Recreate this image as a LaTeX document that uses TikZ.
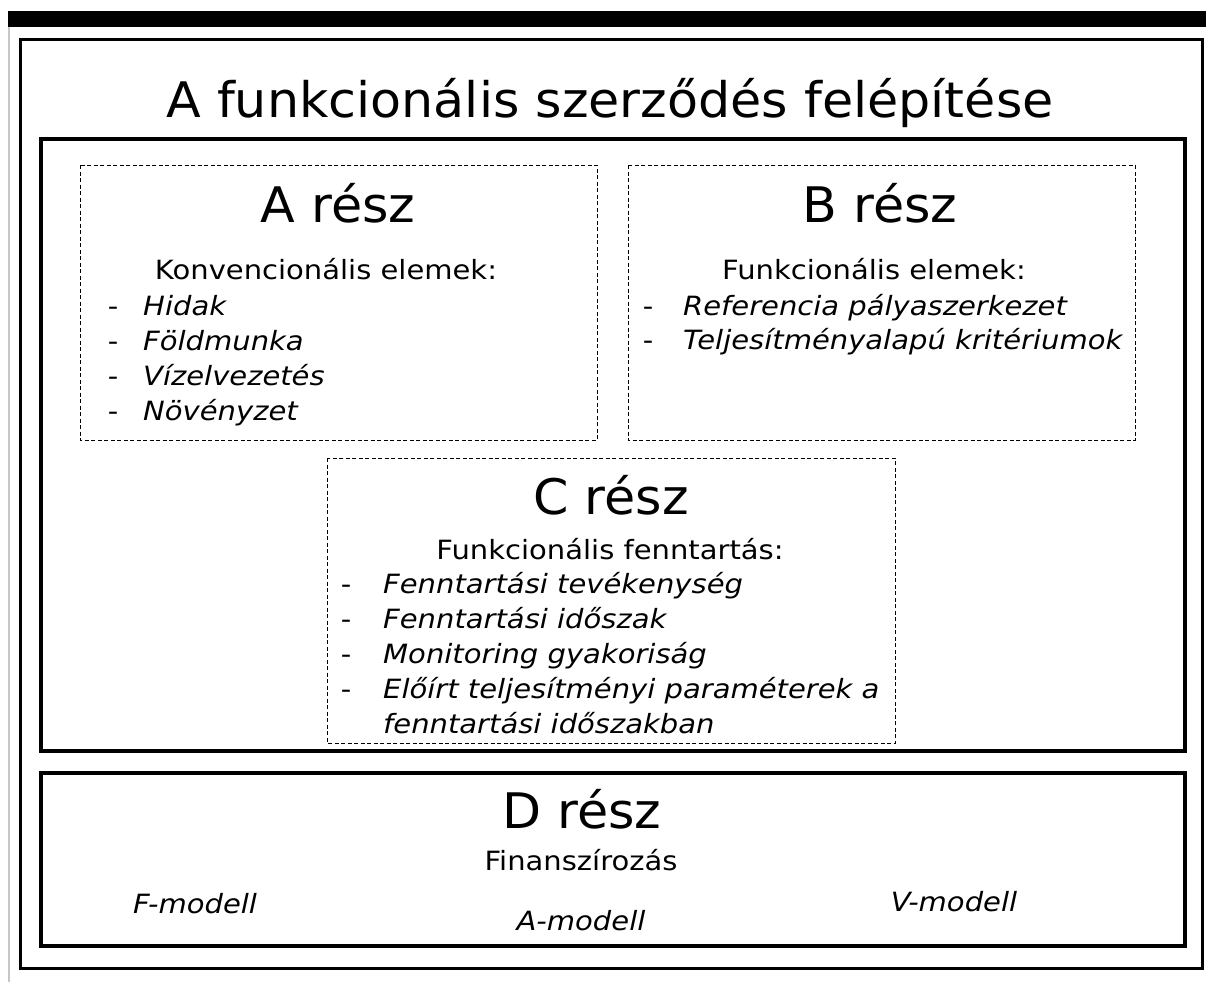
\documentclass[tikz,border=0pt]{standalone}
\usepackage{fontspec}
\setmainfont{DejaVu Sans}
\newfontfamily\bigfont[FakeStretch=1.035]{DejaVu Sans}
\newfontfamily\bodyfont[FakeStretch=1.095]{DejaVu Sans}
\newcommand{\bigtxt}{\bigfont\fontsize{49}{59}\selectfont}
\newcommand{\smtxt}{\bodyfont\fontsize{26.5}{32}\selectfont}
\begin{document}
\begin{tikzpicture}[x=1pt,y=-1pt,
  thickbox/.style={draw=black,line width=4pt},
  outerbox/.style={draw=black,line width=3pt},
  dashbox/.style={draw=black,line width=1pt,dash pattern=on 4pt off 2.5pt},
  big/.style={inner sep=0pt,anchor=base,font=\bigtxt},
  lbl/.style={inner sep=0pt,anchor=base,font=\smtxt},
  ilbl/.style={inner sep=0pt,anchor=base,font=\smtxt\itshape},
  item/.style={inner sep=0pt,anchor=base west,font=\smtxt\itshape},
  dsh/.style={inner sep=0pt,anchor=base,font=\smtxt}]
\useasboundingbox (0,0) rectangle (1206,982);
% top bar and side line
\fill[black] (8,11) rectangle (1206,27);
\draw[line width=2pt,color=black!22] (9,27) -- (9,982);
% boxes
\draw[outerbox] (20,39.5) rectangle (1202,968);
\draw[thickbox] (41,139) rectangle (1185,751);
\draw[thickbox] (41,773) rectangle (1185,946);
\draw[dashbox] (80,165) rectangle (597,440);
\draw[dashbox] (628,165) rectangle (1135,440);
\draw[dashbox] (327,458) rectangle (895,743);
% title
\node[big] (title) at (610,117) {A funkcionális szerződés felépítése};
% A
\node[big] (atitle) at (338,222) {A rész};
\node[lbl] (ahead) at (326,279) {Konvencionális elemek:};
\foreach \t/\yy [count=\i] in {Hidak/315,Földmunka/350,Vízelvezetés/385,Növényzet/420}{
  \node[dsh] (ad\i) at (113,\yy) {-};
  \node[item] (ai\i) at (143,\yy) {\t};
}
% B
\node[big] (btitle) at (880,222) {B rész};
\node[lbl] (bhead) at (874,279) {Funkcionális elemek:};
\node[dsh] (bd1) at (648,315) {-};
\node[item] (bi1) at (683,315) {Referencia pályaszerkezet};
\node[dsh] (bd2) at (648,349) {-};
\node[item] (bi2) at (683,349) {Teljesítményalapú kritériumok};
% C
\node[big] (ctitle) at (611,514) {C rész};
\node[lbl] (chead) at (610,559) {Funkcionális fenntartás:};
\foreach \t/\yy [count=\i] in {Fenntartási tevékenység/593,Fenntartási időszak/628,Monitoring gyakoriság/663,Előírt teljesítményi paraméterek a/698}{
  \node[dsh] (cd\i) at (346,\yy) {-};
  \node[item] (ci\i) at (383,\yy) {\t};
}
\node[item] (ci5) at (383,733) {fenntartási időszakban};
% D
\node[big] (dtitle) at (582,828) {D rész};
\node[lbl] (dhead) at (581,870) {Finanszírozás};
\node[ilbl] (fm) at (195,913) {F-modell};
\node[ilbl] (am) at (581,930) {A-modell};
\node[ilbl] (vm) at (954,911) {V-modell};
\end{tikzpicture}
\end{document}
